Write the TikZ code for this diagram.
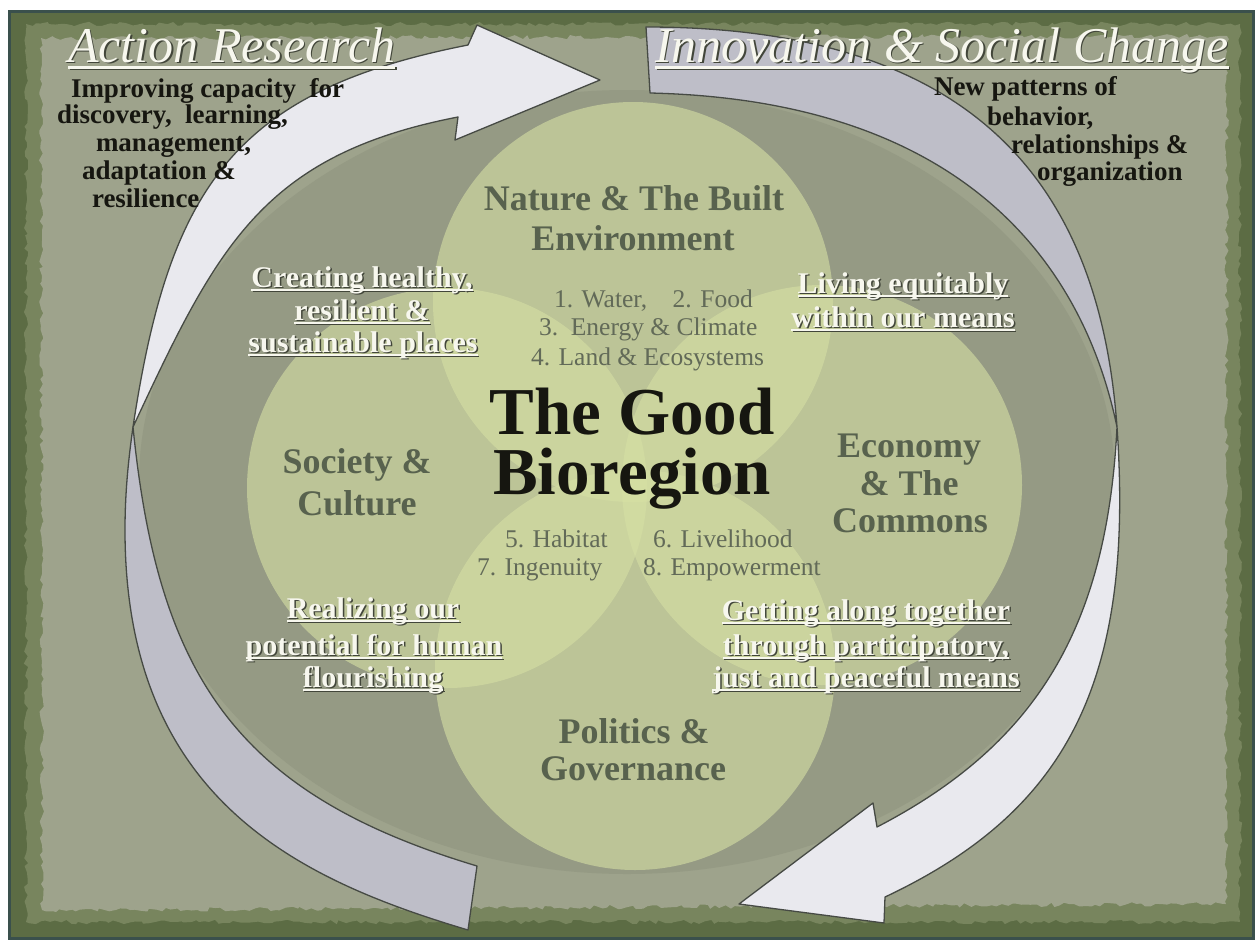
\documentclass[tikz,border=0pt]{standalone}
\usepackage{fontspec}
\setmainfont{Liberation Serif}
\usetikzlibrary{decorations.pathmorphing}

% palette
\definecolor{framedark}{RGB}{92,108,68}
\definecolor{frameedge}{RGB}{58,80,76}
\definecolor{framemid}{RGB}{120,133,94}
\definecolor{paper}{RGB}{158,163,140}
\definecolor{paperin}{RGB}{149,154,132}
\definecolor{petal}{RGB}{214,224,164}
\definecolor{arrowfront}{RGB}{233,233,238}
\definecolor{arrowback}{RGB}{190,190,200}
\definecolor{arrowline}{RGB}{70,74,68}
\definecolor{inkdark}{RGB}{22,22,16}
\definecolor{inklabel}{RGB}{88,98,78}
\definecolor{inknum}{RGB}{98,106,88}
\definecolor{inkwhite}{RGB}{247,247,238}
\definecolor{inkshadow}{RGB}{66,70,58}

% underline that crosses the descenders
\newsavebox\ulinebox
\newcommand\ulined[1]{\sbox\ulinebox{#1}\rlap{\rule[-0.13em]{\wd\ulinebox}{0.055em}}\usebox\ulinebox}
% text with a dark drop shadow: name, position, style, content
\newcommand\shadowed[4]{%
  \node[#3,text=inkshadow,xshift=1.5pt,yshift=-1.5pt] (#1-shadow) at (#2) {#4};
  \node[#3] (#1) at (#2) {#4};}

\begin{document}
\begin{tikzpicture}[x=1pt,y=-1pt,
  every node/.style={inner sep=0pt,outer sep=0pt},
  headtext/.style={font=\fontsize{50}{54}\selectfont\itshape,text=inkwhite,anchor=base west},
  sidenote/.style={font=\fontsize{27}{31}\selectfont\bfseries,text=inkdark,anchor=base west},
  spheretext/.style={font=\fontsize{36}{40}\selectfont\bfseries,text=inklabel,anchor=base},
  itemtext/.style={font=\fontsize{25.5}{30}\selectfont,text=inknum,anchor=base west},
  coretext/.style={font=\fontsize{67}{60}\selectfont\bfseries,text=inkdark,align=center},
  aimtext/.style={font=\fontsize{30}{34}\selectfont\bfseries,text=inkwhite,anchor=base},
  petalfill/.style={fill=petal,fill opacity=0.6},
  arrowbody/.style={draw=arrowline,line width=1.3pt,line join=round},
  torn/.style={decorate,decoration={random steps,segment length=5pt,amplitude=2.2pt}}
]
\useasboundingbox (0,0) rectangle (1255,940);
\fill[white] (0,0) rectangle (1255,940);

% mossy frame and torn paper sheet
\fill[framedark] (8,10) rectangle (1255,940);
\draw[frameedge,line width=3pt] (9.5,11.5) rectangle (1253.5,938.5);
\pgfmathsetseed{4711}
\fill[framemid,torn] (26,24) -- (1240,24) -- (1240,922) -- (26,922) -- cycle;
\fill[paper,torn] (41,38) -- (1227,36) -- (1226,904) -- (42,910) -- cycle;

% shaded field inside the ring of arrows
\fill[paperin] (627,482) ellipse [x radius=488, y radius=392];

% the four overlapping spheres
\fill[petalfill] (633,302) circle [radius=200];
\fill[petalfill] (447,488) circle [radius=200];
\fill[petalfill] (822,485) circle [radius=200];
\fill[petalfill] (635,670) circle [radius=200];

% left curved arrow: shaded back part rising from the tail
\coordinate (lpinch) at (133,427);
\filldraw[arrowbody,fill=arrowback]
  (lpinch) .. controls (128,462) and (125,495) .. (125,530)
  .. controls (125,800) and (300,880) .. (468,930)
  -- (477,866)
  .. controls (237,794) and (158,677) .. (lpinch) -- cycle;
% left curved arrow: light front part with its head
\filldraw[arrowbody,fill=arrowfront]
  (468,45) .. controls (233,91) and (169,189) .. (lpinch)
  .. controls (217,247) and (262,155) .. (458,117)
  -- (455,140) -- (600,80) -- (477,25) -- cycle;

% right curved arrow: shaded back part from the tail
\coordinate (rpinch) at (1117,427);
\filldraw[arrowbody,fill=arrowback]
  (646,27) .. controls (980,27) and (1100,190) .. (rpinch)
  .. controls (1080,250) and (950,100) .. (650,93) -- cycle;
% right curved arrow: light front part with its head
\filldraw[arrowbody,fill=arrowfront]
  (rpinch) .. controls (1135,687) and (1063,813) .. (885,897)
  -- (884,923) -- (739,904) -- (873,803) -- (877,827)
  .. controls (1037,744) and (1107,627) .. (rpinch) -- cycle;

% headings
\shadowed{head-action}{68,62}{headtext}{\ulined{Action Research}}
\shadowed{head-change}{655,62}{headtext}{\ulined{Innovation \& Social Change}}

% notes beside the headings
\node[sidenote] (act1) at (71,97)  {Improving capacity\ \ for};
\node[sidenote] (act2) at (57,123) {discovery,\ \ learning,};
\node[sidenote] (act3) at (96,151) {management,};
\node[sidenote] (act4) at (82,179) {adaptation \&};
\node[sidenote] (act5) at (92,207) {resilience};
\node[sidenote] (chg1) at (934,95)  {New patterns of};
\node[sidenote] (chg2) at (987,125) {behavior,};
\node[sidenote] (chg3) at (1011,153) {relationships \&};
\node[sidenote] (chg4) at (1037,180) {organization};

% sphere names
\node[spheretext] (nat1) at (634,210) {Nature \& The Built};
\node[spheretext] (nat2) at (633,250) {Environment};
\node[spheretext] (soc1) at (357,473) {Society \&};
\node[spheretext] (soc2) at (357,515) {Culture};
\node[spheretext] (eco1) at (909,457) {Economy};
\node[spheretext] (eco2) at (909,495) {\& The};
\node[spheretext] (eco3) at (910,532) {Commons};
\node[spheretext] (pol1) at (634,743) {Politics \&};
\node[spheretext] (pol2) at (633,780) {Governance};

% numbered themes
\node[itemtext] (it12) at (554,307) {1. Water,\quad 2. Food};
\node[itemtext] (it3)  at (539,335) {3.\ \ Energy \& Climate};
\node[itemtext] (it4)  at (531,365) {4. Land \& Ecosystems};
\node[itemtext] (it5)  at (505,547) {5. Habitat};
\node[itemtext] (it6)  at (653,547) {6. Livelihood};
\node[itemtext] (it7)  at (477,575) {7. Ingenuity};
\node[itemtext] (it8)  at (643,575) {8. Empowerment};

% centre title
\node[coretext] (core) at (632,449) {The Good\\Bioregion};

% aims between the spheres
\shadowed{aim-a1}{362,287}{aimtext}{\ulined{Creating healthy,}}
\shadowed{aim-a2}{362,320}{aimtext}{\ulined{resilient \&}}
\shadowed{aim-a3}{363,352}{aimtext}{\ulined{sustainable places}}
\shadowed{aim-b1}{903,293}{aimtext}{\ulined{Living equitably}}
\shadowed{aim-b2}{903,327}{aimtext}{\ulined{within our means}}
\shadowed{aim-c1}{373,618}{aimtext}{\ulined{Realizing our}}
\shadowed{aim-c2}{374,655}{aimtext}{\ulined{potential for human}}
\shadowed{aim-c3}{373,687}{aimtext}{\ulined{flourishing}}
\shadowed{aim-d1}{866,620}{aimtext}{\ulined{Getting along together}}
\shadowed{aim-d2}{866,655}{aimtext}{\ulined{through participatory,}}
\shadowed{aim-d3}{866,687}{aimtext}{\ulined{just and peaceful means}}
\end{tikzpicture}
\end{document}
